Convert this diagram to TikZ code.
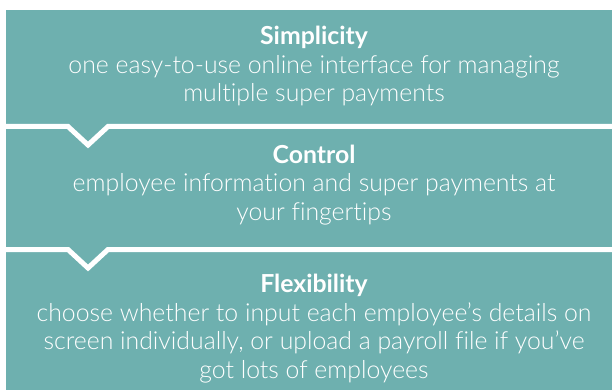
\documentclass[tikz,border=0pt]{standalone}
\usepackage{fontspec}
\setmainfont{Lato}[UprightFont={* Light},BoldFont={* Bold},Ligatures={NoCommon}]
\definecolor{panelteal}{RGB}{110,176,175}
\begin{document}
\begin{tikzpicture}[x=1pt,y=-1pt,
  panel/.style={fill=panelteal},
  seam/.style={draw=white,line width=5pt,miter limit=10},
  blurb/.style={text=white,align=center,anchor=base,inner sep=0pt,
    font=\fontsize{24.8}{28.5}\selectfont}]
\useasboundingbox (0,0) rectangle (612,390);
% three stacked panels
\fill[panel] (6,10) rectangle (612,128);
\fill[panel] (6,125) rectangle (612,252);
\fill[panel] (6,249) rectangle (612,390);
% white chevron seams between the panels
\draw[seam] (0,126.5) -- (68,126.5) -- (88,145) -- (108,126.5) -- (612,126.5);
\draw[seam] (0,249.5) -- (68,249.5) -- (88,268) -- (108,249.5) -- (612,249.5);
% panel texts (each node sits on the baseline of its last line)
\node[blurb] (simplicity) at (314,102)
  {\textbf{Simplicity}\\one easy-to-use online interface for managing\\multiple super payments};
\node[blurb] (control) at (314,220.3)
  {\textbf{Control}\\employee information and super payments at\\your fingertips};
\node[blurb] (flexibility) at (314,378)
  {\textbf{Flexibility}\\choose whether to input each employee’s details on\\screen individually, or upload a payroll file if you’ve\\got lots of employees};
\end{tikzpicture}
\end{document}
